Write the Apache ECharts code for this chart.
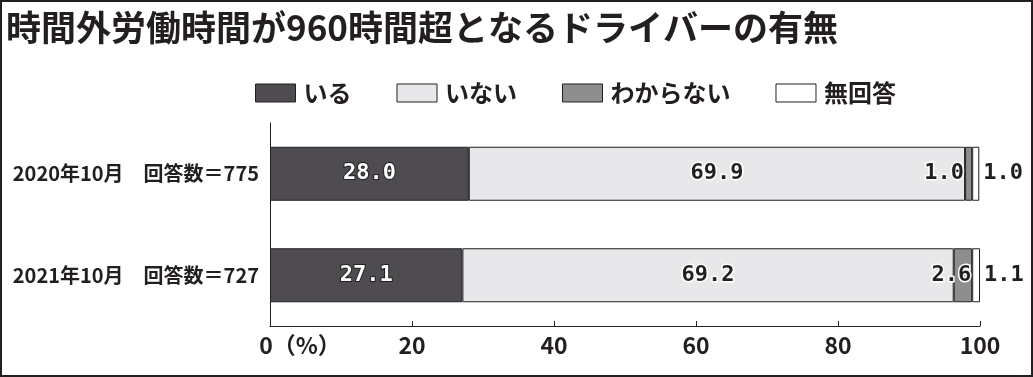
<!DOCTYPE html>
<html>
<head>
<meta charset="utf-8">
<script src="https://cdn.jsdelivr.net/npm/echarts@6/dist/echarts.min.js"></script>
<style>
  html, body { margin: 0; padding: 0; background: #fff; }
  #wrap { position: relative; width: 1033px; height: 377px; }
  #chart { position: absolute; left: 0; top: 0; width: 1033px; height: 377px; }
  #frame { position: absolute; left: 0; top: 0; width: 1033px; height: 377px;
           box-sizing: border-box; border: 2px solid #231f20; pointer-events: none; }
</style>
</head>
<body>
<div id="wrap">
  <div id="chart"></div>
  <div id="frame"></div>
</div>
<script>
  // 調査回
  const categories = ['2020年10月　回答数＝775', '2021年10月　回答数＝727']
  const seriesNames = ['いる', 'いない', 'わからない', '無回答']
  // 構成比（%）
  const iru = [28.0, 27.1]
  const inai = [69.9, 69.2]
  const wakaranai = [1.0, 2.6]
  const mukaito = [1.0, 1.1]
  const xTicks = [0, 20, 40, 60, 80, 100]

  const ink = '#231f20'
  const cjk = '"Noto Sans CJK JP", "Noto Sans", sans-serif'
  const mono = '"DejaVu Sans Mono", monospace'

  const chart = echarts.init(document.getElementById('chart'))

  const baseLabel = {
    show: true,
    fontFamily: mono,
    fontWeight: 'bold',
    fontSize: 22,
    color: ink,
    textBorderColor: '#fff',
    textBorderWidth: 3,
    formatter: p => p.value.toFixed(1)
  }

  const bar = (name, data, color, label) => ({
    name: name,
    type: 'bar',
    stack: 'total',
    barWidth: 54,
    data: data,
    itemStyle: { color: color, borderColor: ink, borderWidth: 1 },
    label: Object.assign({}, baseLabel, label)
  })

  chart.setOption({
    animation: false,
    title: {
      text: '時間外労働時間が960時間超となるドライバーの有無',
      left: 6,
      top: 10,
      padding: 0,
      textStyle: { fontFamily: cjk, fontWeight: 'bold', fontSize: 35, color: ink }
    },
    legend: {
      left: 255,
      top: 81,
      padding: 0,
      icon: 'rect',
      itemWidth: 40,
      itemHeight: 18,
      itemGap: 45,
      data: seriesNames.map(n => ({ name: n, itemStyle: { borderColor: ink, borderWidth: 1 } })),
      textStyle: { fontFamily: cjk, fontWeight: 'bold', fontSize: 24, color: ink, padding: [0, 0, 0, 3] }
    },
    grid: { left: 270, right: 53, top: 123, bottom: 51 },
    xAxis: {
      type: 'value',
      min: xTicks[0],
      max: xTicks[xTicks.length - 1],
      interval: 20,
      axisLine: { show: true, lineStyle: { color: ink, width: 1 } },
      axisTick: { show: true, inside: true, length: 5, lineStyle: { color: ink } },
      splitLine: { show: false },
      axisLabel: {
        margin: 8,
        fontFamily: cjk,
        fontWeight: 'bold',
        fontSize: 23,
        color: ink,
        formatter: v => v === 0 ? '{z|0（%）}' : String(v),
        rich: {
          z: { fontFamily: cjk, fontWeight: 'bold', fontSize: 23, color: ink, padding: [0, 0, 0, 60] }
        }
      }
    },
    yAxis: {
      type: 'category',
      inverse: true,
      data: categories,
      axisLine: { show: true, lineStyle: { color: ink, width: 1 } },
      axisTick: { show: false },
      axisLabel: { margin: 11, fontFamily: cjk, fontWeight: 'bold', fontSize: 20, color: ink }
    },
    series: [
      bar(seriesNames[0], iru, '#4e4c50', { color: '#fff', textBorderColor: ink, textBorderWidth: 2 }),
      bar(seriesNames[1], inai, '#e8e8ea', {}),
      bar(seriesNames[2], wakaranai.map((v, i) => i === 0 ? { value: v, label: { position: 'left', distance: 1 } } : v),
        '#8e8e8e', { position: 'insideRight', distance: 1 }),
      bar(seriesNames[3], mukaito, '#fff', { position: 'right', distance: 4, textBorderWidth: 0 })
    ]
  })
</script>
</body>
</html>
